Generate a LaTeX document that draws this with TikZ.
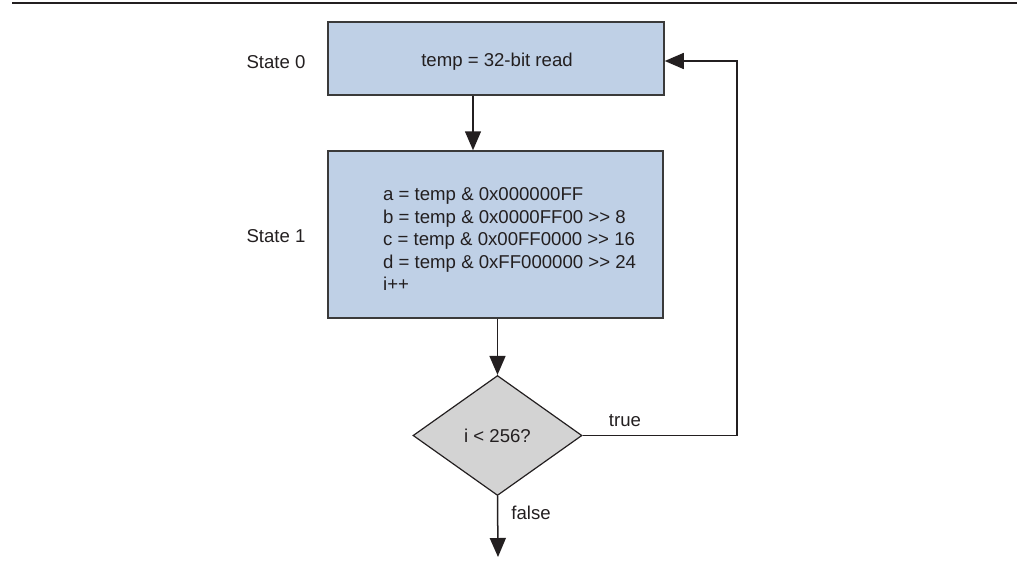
\documentclass[tikz,border=0pt]{standalone}
\usepackage{fontspec}
\setmainfont{Liberation Sans}
\usetikzlibrary{arrows.meta,shapes.geometric}
\definecolor{boxblue}{HTML}{BFD0E6}
\definecolor{diagray}{HTML}{D3D3D3}
\definecolor{ink}{HTML}{231F20}
\definecolor{edgegray}{HTML}{3A3A3A}
\begin{document}
\begin{tikzpicture}[x=1pt,y=-1pt,
  lbl/.style={font=\fontsize{18.6}{22.5}\selectfont, text=ink, inner sep=0pt},
  statebox/.style={draw=edgegray, line width=1.5pt, fill=boxblue, inner sep=0pt},
  decision/.style={diamond, draw=ink, line width=1.2pt, fill=diagray, inner sep=0pt, aspect=1.408},
  flow/.style={draw=ink, line width=1.5pt, -{Triangle[width=16pt,length=19pt]}},
  ]
\useasboundingbox (0,0) rectangle (1017,571);
\coordinate (ruleL) at (12,3);
\coordinate (ruleR) at (1017,3);
\draw[ink, line width=2.2pt] (ruleL) -- (ruleR);

\node[statebox, minimum width=336pt, minimum height=73pt] (s0) at (496,58.5) {};
\node[lbl] (s0text) at (497,62) {temp = 32-bit read};
\node[statebox, minimum width=335pt, minimum height=167pt] (s1) at (495.5,234.5) {};
\node[lbl, align=left, anchor=west] (s1text) at (383,239) {a = temp \& 0x000000FF\\b = temp \& 0x0000FF00 >{}> 8\\c = temp \& 0x00FF0000 >{}> 16\\d = temp \& 0xFF000000 >{}> 24\\i++};
\node[decision, lbl, minimum width=169pt, minimum height=120pt] (d) at (497.5,435.5) {i < 256?};

\node[lbl] (st0) at (276,62) {State 0};
\node[lbl] (st1) at (276,236) {State 1};
\node[lbl] (ttrue) at (625,421) {true};
\node[lbl] (tfalse) at (531,513) {false};

\coordinate (loop) at (737,61);
\coordinate (endpt) at (498,557);

\draw[flow] ([xshift=-23pt]s0.south) -- ([xshift=-23pt]s0.south |- s1.north);
\draw[flow] (d.north |- s1.south) -- (d.north);
\draw[flow] (d.east) -| (loop) -- (loop -| s0.east);
\draw[flow] (d.south) -- (endpt);
\end{tikzpicture}
\end{document}
